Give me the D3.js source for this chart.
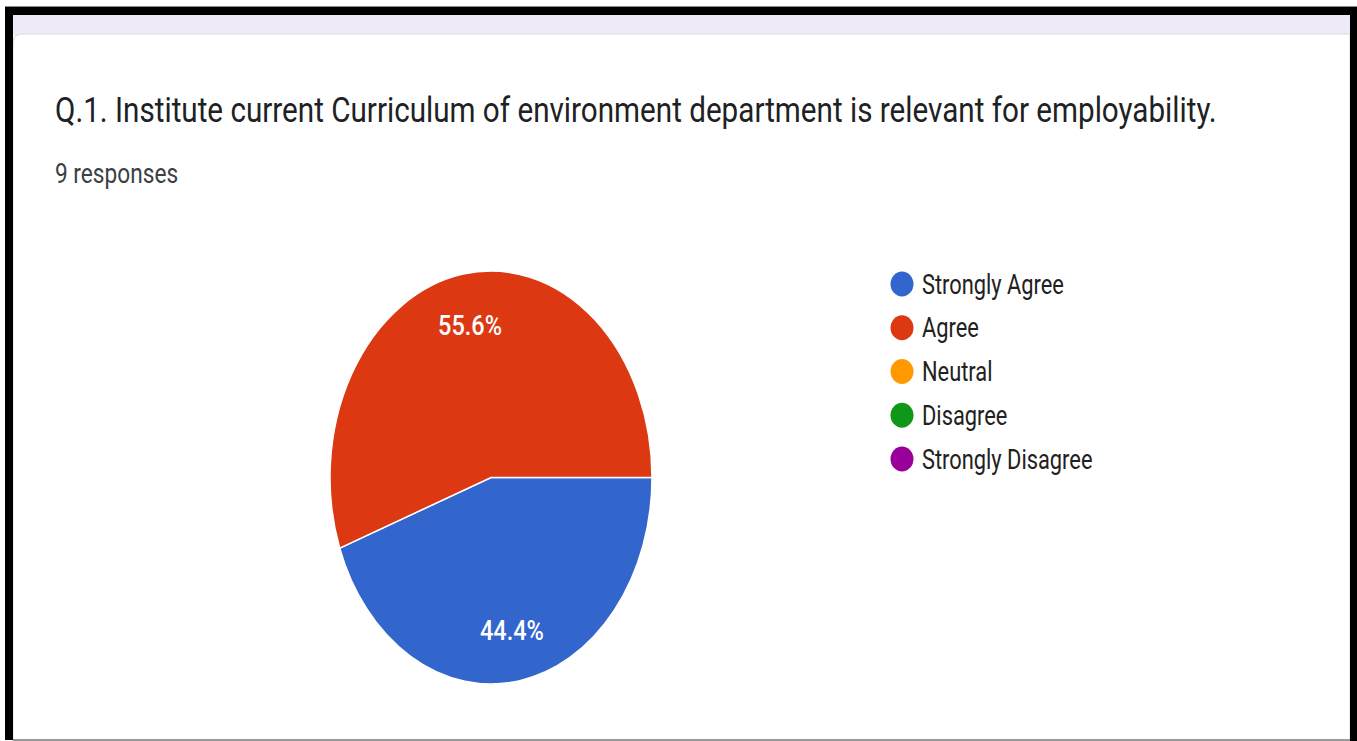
<!DOCTYPE html>
<html><head><meta charset="utf-8">
<script src="https://cdn.jsdelivr.net/npm/d3@7"></script>
<style>html,body{margin:0;padding:0;background:#fff;overflow:hidden}svg{display:block}text{font-family:Roboto,"Noto Sans",sans-serif}</style>
</head><body>
<svg id="c" width="1357" height="741"></svg>
<script>
const title = "Q.1. Institute current Curriculum of environment department is relevant for employability.";
const subtitle = "9 responses";
const categories = ["Strongly Agree","Agree","Neutral","Disagree","Strongly Disagree"];
const counts = [4,5,0,0,0];
const colors = ["#3366cc","#dc3912","#ff9900","#109618","#990099"];

const svg = d3.select("#c");
const sx = 0.78; // horizontal squeeze of the screenshot

// frame
svg.append("rect").attr("x",0).attr("y",0).attr("width",1357).attr("height",741).attr("fill","#fff");
svg.append("rect").attr("x",13).attr("y",15).attr("width",1337).attr("height",20).attr("fill","#efeaf8");
svg.append("path").attr("d","M13,43 Q13,34 22,34 L1350,34 L1350,741 L13,741 Z").attr("fill","#fff").attr("stroke","#dcdae0").attr("stroke-width",1.2);
svg.append("rect").attr("x",5).attr("y",6).attr("width",1352).attr("height",1.5).attr("fill","#8a8a8a");
svg.append("rect").attr("x",5).attr("y",7).attr("width",1352).attr("height",8).attr("fill","#000");
svg.append("rect").attr("x",5).attr("y",7).attr("width",8).attr("height",733).attr("fill","#000");
svg.append("rect").attr("x",1350).attr("y",7).attr("width",7).attr("height",734).attr("fill","#000");
svg.append("rect").attr("x",13).attr("y",739).attr("width",1337).attr("height",2).attr("fill","#9a9a9a");

// texts
svg.append("text").attr("transform",`translate(55,122) scale(0.847,1)`)
  .attr("font-size",35).attr("fill","#202124").text(title);
svg.append("text").attr("transform",`translate(55,183) scale(0.81,1)`)
  .attr("font-size",28).attr("fill","#3c4043").text(subtitle);

// pie
const rx = 161, ry = 206.5, cx = 491, cy = 477.5;
const data = categories.map((c,i)=>({cat:c,value:counts[i],color:colors[i]}));
const total = d3.sum(counts);
const pie = d3.pie().sort(null).value(d=>d.value).startAngle(Math.PI/2).endAngle(Math.PI/2+2*Math.PI);
const arcs = pie(data).filter(d=>d.data.value>0);
const arc = d3.arc().innerRadius(0).outerRadius(rx);
const g = svg.append("g").attr("transform",`translate(${cx},${cy}) scale(1,${ry/rx})`);
g.selectAll("path").data(arcs).join("path")
  .attr("d",arc).attr("fill",d=>d.data.color)
  .attr("stroke","#fff").attr("stroke-width",1.5).attr("vector-effect","non-scaling-stroke");
const labelArc = d3.arc().innerRadius(rx*0.75).outerRadius(rx*0.75);
svg.selectAll("text.lbl").data(arcs).join("text").attr("class","lbl")
  .attr("transform",d=>{const [x,y]=labelArc.centroid(d);return `translate(${cx+x},${cy+y*ry/rx+10}) scale(0.84,1)`;})
  .attr("text-anchor","middle").attr("font-size",28).attr("font-weight",500).attr("fill","#fff")
  .text(d=>(d.data.value/total*100).toFixed(1)+"%");

// legend
const ly = d3.scalePoint().domain(categories).range([284,459]);
const leg = svg.selectAll("g.leg").data(data).join("g").attr("class","leg")
  .attr("transform",d=>`translate(902,${ly(d.cat)})`);
leg.append("ellipse").attr("rx",11.5).attr("ry",12.5).attr("fill",d=>d.color);
leg.append("text").attr("transform",`translate(20,9.5) scale(${sx},1)`)
  .attr("font-size",28).attr("fill","#212121").text(d=>d.cat);
</script>
</body></html>
